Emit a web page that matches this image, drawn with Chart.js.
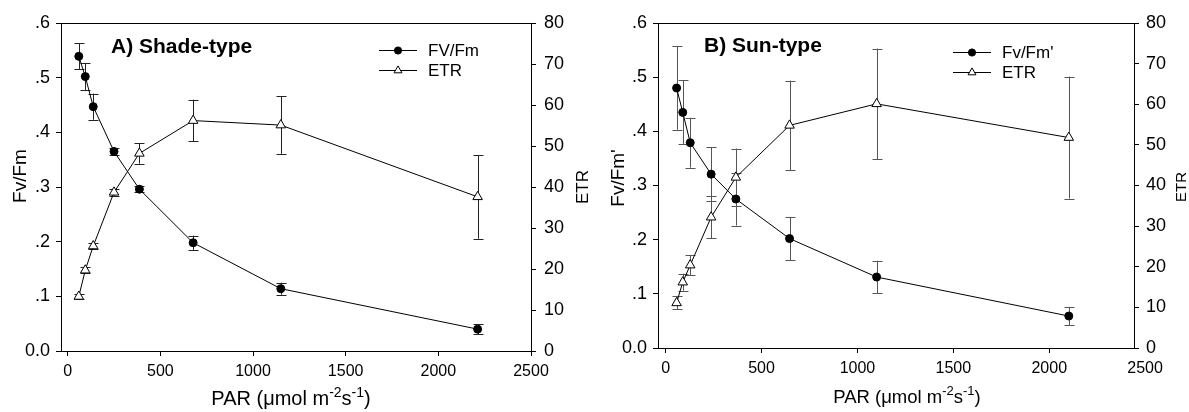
<!DOCTYPE html>
<html lang="en">
<head>
<meta charset="UTF-8">
<title>Fv/Fm and ETR against PAR</title>
<script src="https://cdn.jsdelivr.net/npm/chart.js"></script>
<style>
  body { margin: 0; background: #fff; width: 1189px; height: 412px; position: relative; overflow: hidden; }
  .panel { position: absolute; top: 0; height: 412px; }
  #panelA { left: 0; width: 595px; }
  #panelB { left: 595px; width: 594px; }
</style>
</head>
<body>
<div class="panel" id="panelA"><canvas id="chartA"></canvas></div>
<div class="panel" id="panelB"><canvas id="chartB"></canvas></div>
<script>
// A) shade-type
const parA = [60, 95, 138, 250, 387, 677, 1150, 2212];
const fvA = [0.539, 0.502, 0.447, 0.365, 0.296, 0.198, 0.114, 0.040];
const fvErrA = [0.024, 0.025, 0.024, 0.007, 0.006, 0.013, 0.011, 0.009];
const etrA = [13.3, 19.7, 25.6, 38.7, 48.2, 56.2, 55.1, 37.6];
const etrErrA = [0.5, 0.7, 0.8, 0.8, 2.5, 5.1, 7.0, 10.2];

// B) sun-type
const parB = [57, 89, 128, 237, 366, 646, 1100, 2102];
const fvB = [0.480, 0.435, 0.379, 0.321, 0.275, 0.202, 0.131, 0.059];
const fvErrB = [0.077, 0.059, 0.046, 0.050, 0.049, 0.040, 0.030, 0.017];
const etrB = [11.1, 16.2, 20.4, 32.2, 42.0, 54.8, 60.1, 51.8];
const etrErrB = [1.6, 2.1, 2.5, 5.2, 7.1, 11.0, 13.6, 15.0];

const xTicks = [0, 500, 1000, 1500, 2000, 2500];
const fvTicks = [0, 0.1, 0.2, 0.3, 0.4, 0.5, 0.6];
const etrTicks = [0, 10, 20, 30, 40, 50, 60, 70, 80];

const FONT = 'Arial, "Liberation Sans", sans-serif';

function pts(xs, ys) {
    return xs.map((x, i) => ({ x: x, y: ys[i] }));
}

function fixTicks(vals) {
    return function (scale) { scale.ticks = vals.map(v => ({ value: v })); };
}

const panelPlugin = {
    id: 'panel',
    beforeDatasetsDraw(chart, args, o) {
        const ctx = chart.ctx;
        chart.data.datasets.forEach((ds, i) => {
            const meta = chart.getDatasetMeta(i);
            const ys = chart.scales[ds.yAxisID];
            ctx.save();
            ctx.strokeStyle = o.errColor;
            ctx.lineWidth = 1;
            ctx.beginPath();
            ds.data.forEach((p, j) => {
                const x = Math.round(meta.data[j].x) + 0.5;
                const hi = ys.getPixelForValue(p.y + ds.errors[j]);
                const lo = ys.getPixelForValue(p.y - ds.errors[j]);
                ctx.moveTo(x, lo); ctx.lineTo(x, hi);
                ctx.moveTo(x - 5, Math.round(lo) + 0.5); ctx.lineTo(x + 5, Math.round(lo) + 0.5);
                ctx.moveTo(x - 5, Math.round(hi) + 0.5); ctx.lineTo(x + 5, Math.round(hi) + 0.5);
            });
            ctx.stroke();
            ctx.restore();
        });
    },
    afterDraw(chart, args, o) {
        const ctx = chart.ctx;
        const a = chart.chartArea;
        ctx.save();
        // top frame line
        ctx.strokeStyle = '#000';
        ctx.lineWidth = 1;
        ctx.beginPath();
        ctx.moveTo(a.left, Math.round(a.top) + 0.5);
        ctx.lineTo(a.right, Math.round(a.top) + 0.5);
        ctx.stroke();

        ctx.fillStyle = '#000';
        // panel title
        ctx.font = 'bold 21px ' + FONT;
        ctx.textAlign = 'left';
        ctx.textBaseline = 'alphabetic';
        ctx.fillText(o.title, o.titleX, o.titleY);

        // legend
        ctx.font = '17px ' + FONT;
        ctx.textBaseline = 'middle';
        chart.data.datasets.forEach((ds, i) => {
            const y = o.legY + i * 20;
            ctx.strokeStyle = '#000';
            ctx.beginPath();
            ctx.moveTo(o.legX, y + 0.5);
            ctx.lineTo(o.legX + 38, y + 0.5);
            ctx.stroke();
            ctx.fillStyle = ds.pointBackgroundColor;
            ctx.strokeStyle = '#000';
            ctx.lineWidth = 1;
            Chart.helpers.drawPoint(ctx, {
                pointStyle: ds.pointStyle,
                radius: ds.pointStyle === 'circle' ? 3.6 : 4.6,
                borderWidth: 1,
                rotation: 0
            }, o.legX + 19, y + 0.5);
            ctx.fillStyle = '#000';
            ctx.fillText(ds.label, o.legX + 49, y + 1);
        });

        // left axis title
        ctx.textAlign = 'center';
        ctx.textBaseline = 'middle';
        ctx.font = o.yFont + 'px ' + FONT;
        ctx.save();
        ctx.translate(o.yTitleX, o.yTitleY);
        ctx.rotate(-Math.PI / 2);
        ctx.fillText(o.yTitle, 0, 0);
        ctx.restore();
        // right axis title
        ctx.font = o.y2Font + 'px ' + FONT;
        ctx.save();
        ctx.translate(o.y2TitleX, o.y2TitleY);
        ctx.rotate(-Math.PI / 2);
        ctx.fillText('ETR', 0, 0);
        ctx.restore();

        // x axis title with superscripts
        const big = o.xFont + 'px ' + FONT;
        const small = Math.round(o.xFont * 0.7) + 'px ' + FONT;
        const parts = [['PAR (\u03bcmol m', big, 0], ['-2', small, 1], ['s', big, 0], ['-1', small, 1], [')', big, 0]];
        let total = 0;
        parts.forEach(p => { ctx.font = p[1]; p.push(ctx.measureText(p[0]).width); total += p[3]; });
        let x = o.xTitleX - total / 2;
        ctx.textAlign = 'left';
        ctx.textBaseline = 'alphabetic';
        parts.forEach(p => {
            ctx.font = p[1];
            ctx.fillText(p[0], x, o.xTitleY - (p[2] ? o.xFont * 0.42 : 0));
            x += p[3];
        });
        ctx.restore();
    }
};

function makeChart(id, par, fv, fvErr, etr, etrErr, fvLabel, geo) {
    const axisBase = {
        border: { display: true, color: '#000', width: 1 },
        grid: { drawOnChartArea: false, drawTicks: true, tickLength: 5, tickColor: '#000' }
    };
    return new Chart(document.getElementById(id), {
        type: 'line',
        data: {
            datasets: [{
                label: fvLabel,
                data: pts(par, fv),
                errors: fvErr,
                yAxisID: 'y',
                borderColor: '#000',
                borderWidth: 1,
                pointStyle: 'circle',
                pointRadius: 4,
                pointBackgroundColor: '#000',
                pointBorderColor: '#000',
                pointBorderWidth: 1
            }, {
                label: 'ETR',
                data: pts(par, etr),
                errors: etrErr,
                yAxisID: 'y2',
                borderColor: '#000',
                borderWidth: 1,
                pointStyle: 'triangle',
                pointRadius: 5.5,
                pointBackgroundColor: '#fff',
                pointBorderColor: '#000',
                pointBorderWidth: 1
            }]
        },
        options: {
            responsive: true,
            maintainAspectRatio: false,
            animation: false,
            layout: { padding: { top: 23, left: 0, right: 0, bottom: 0 } },
            plugins: {
                legend: { display: false },
                tooltip: { enabled: false },
                panel: geo.text
            },
            scales: {
                x: Object.assign({}, axisBase, {
                    type: 'linear',
                    min: geo.xMin,
                    max: geo.xMax,
                    afterBuildTicks: fixTicks(xTicks),
                    afterFit: s => { s.height = geo.bottomH; },
                    grid: Object.assign({}, axisBase.grid, {
                        tickColor: c => (c.tick && c.tick.value > geo.xMax) ? 'rgba(0,0,0,0)' : '#000'
                    }),
                    ticks: {
                        color: '#000', font: { family: FONT, size: 16 }, padding: 6, maxRotation: 0, autoSkip: false,
                        callback: v => String(v)
                    }
                }),
                y: Object.assign({}, axisBase, {
                    position: 'left',
                    min: 0, max: 0.6,
                    afterBuildTicks: fixTicks(fvTicks),
                    afterFit: s => { s.width = geo.leftW; },
                    ticks: {
                        color: '#000', font: { family: FONT, size: 18 }, padding: 6,
                        callback: v => v === 0 ? '0.0' : '.' + Math.round(v * 10)
                    }
                }),
                y2: Object.assign({}, axisBase, {
                    position: 'right',
                    min: 0, max: 80,
                    afterBuildTicks: fixTicks(etrTicks),
                    afterFit: s => { s.width = geo.rightW; },
                    ticks: { color: '#000', font: { family: FONT, size: 18 }, padding: geo.rightPad, callback: v => String(v) }
                })
            }
        },
        plugins: [panelPlugin]
    });
}

makeChart('chartA', parA, fvA, fvErrA, etrA, etrErrA, 'FV/Fm', {
    xMin: -36, xMax: 2500, leftW: 61, rightW: 64, bottomH: 61, rightPad: 8,
    text: {
        title: 'A) Shade-type', titleX: 111, titleY: 53,
        legX: 379, legY: 50,
        yTitle: 'Fv/Fm', yFont: 19, yTitleX: 21, yTitleY: 176,
        y2Font: 17, y2TitleX: 583, y2TitleY: 187,
        xFont: 20, xTitleX: 291, xTitleY: 405,
        errColor: '#222'
    }
});

makeChart('chartB', parB, fvB, fvErrB, etrB, etrErrB, "Fv/Fm'", {
    xMin: -40, xMax: 2442, leftW: 63, rightW: 55, bottomH: 64, rightPad: 7,
    text: {
        title: 'B) Sun-type', titleX: 109, titleY: 52,
        legX: 358, legY: 52,
        yTitle: "Fv/Fm'", yFont: 19, yTitleX: 24, yTitleY: 178,
        y2Font: 15, y2TitleX: 587, y2TitleY: 187,
        xFont: 18.5, xTitleX: 312, xTitleY: 403,
        errColor: '#555'
    }
});
</script>
</body>
</html>
